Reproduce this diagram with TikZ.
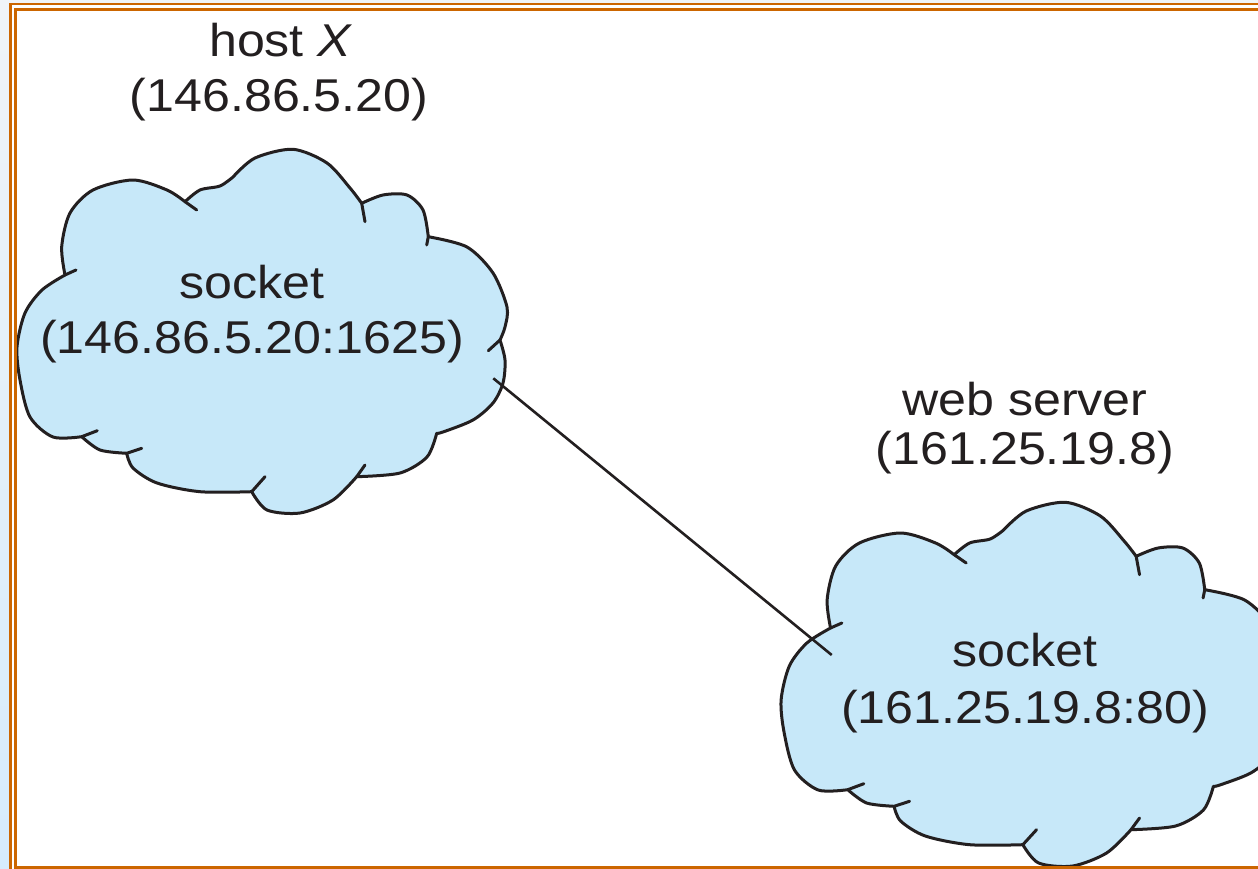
\documentclass[tikz,border=0pt]{standalone}
\usepackage{fontspec}
\setmainfont{Liberation Sans}[FakeStretch=1.09]
\definecolor{cloudfill}{RGB}{199,232,249}
\definecolor{inkc}{RGB}{35,31,32}
\definecolor{framec}{RGB}{204,102,0}
\definecolor{stripc}{RGB}{214,236,252}
\definecolor{stript}{RGB}{240,244,248}
\newcommand{\cloudpath}{(65,275)
 -- plot[smooth] coordinates {(65,275) (61.7,246.7) (70,213) (93,190) (133,180) (167,190) (185,201.7)}
 -- plot[smooth] coordinates {(185,201.7) (200,190) (220,186) (233,177)}
 -- plot[smooth] coordinates {(233,177) (255,158) (293,149.3) (327,163) (350,188) (361.7,203.3)}
 -- plot[smooth] coordinates {(361.7,203.3) (383,195) (407,195) (423,210) (428.3,236.7)}
 -- plot[smooth] coordinates {(428.3,236.7) (467,247) (493,273) (507,307) (505,327) (500,340)}
 -- plot[smooth] coordinates {(500,340) (505,360) (503,383) (493,403) (473,420) (443,432) (436.7,433.3)}
 -- plot[smooth] coordinates {(436.7,433.3) (427,457) (400,473) (356.7,476.7)}
 -- plot[smooth] coordinates {(356.7,476.7) (333,500) (300,513) (267,510) (251.7,491.7)}
 -- plot[smooth] coordinates {(251.7,491.7) (200,491.7) (157,483) (133,468) (126.7,453.3)}
 -- plot[smooth] coordinates {(126.7,453.3) (100,450) (81.7,436.7)}
 -- plot[smooth] coordinates {(81.7,436.7) (53,437) (30,417) (20,380) (17,347) (25,313) (42,290) (65,275)}
 -- cycle}
\newcommand{\cloudtails}{(65,275) -- (76,270)
 (185,201.7) -- (196.7,210)
 (361.7,203.3) -- (365,221.7)
 (428.3,236.7) -- (426.7,245)
 (500,340) -- (488.3,350.7)
 (356.7,476.7) -- (365,465)
 (251.7,491.7) -- (265,476.7)
 (126.7,453.3) -- (141.7,448.3)
 (81.7,436.7) -- (97.3,430.7)}
\tikzset{
  cloudline/.style={draw=inkc, line width=3pt, line join=round, line cap=round},
  cloudbody/.style={fill=cloudfill},
  label/.style={anchor=base, inner sep=0pt, text=inkc, font=\fontsize{46}{55}\selectfont},
  wire/.style={draw=inkc, line width=2.6pt},
  framel/.style={draw=framec, line width=2.6pt}
}
\begin{document}
\begin{tikzpicture}[x=1pt, y=-1pt]
\useasboundingbox (0,0) rectangle (1258,869);
\clip (0,0) rectangle (1258,869);
% background
\fill[white] (0,0) rectangle (1258,869);
\shade[top color=stript, bottom color=stripc] (0,0) rectangle (10,869);
\fill[stript] (0,0) rectangle (1258,4);
% left cloud
\fill[cloudbody] \cloudpath;
\draw[cloudline] \cloudpath;
\draw[cloudline] \cloudtails;
% right cloud
\begin{scope}[shift={(763.6,353)}, xscale=1.03]
\fill[cloudbody] \cloudpath;
\draw[cloudline] \cloudpath;
\draw[cloudline] \cloudtails;
\end{scope}
% connector
\coordinate (cA) at (493.3,378.3);
\coordinate (cB) at (831.7,655);
\draw[wire] (cA) -- (cB);
% labels
\node[label] (hostA) at (281,56.7) {host \textit{X}};
\node[label] (hostB) at (279,111.7) {(146.86.5.20)};
\node[label] (sockA1) at (252,298.3) {socket};
\node[label] (sockA2) at (252,353.3) {(146.86.5.20:1625)};
\node[label] (webA) at (1025,415) {web server};
\node[label] (webB) at (1025,464) {(161.25.19.8)};
\node[label] (sockB1) at (1025,666.7) {socket};
\node[label] (sockB2) at (1025,723.3) {(161.25.19.8:80)};
% frame
\draw[framel] (10.3,4) rectangle (1275,885);
\draw[framel] (15.5,9.3) rectangle (1268,867.5);
\end{tikzpicture}
\end{document}
